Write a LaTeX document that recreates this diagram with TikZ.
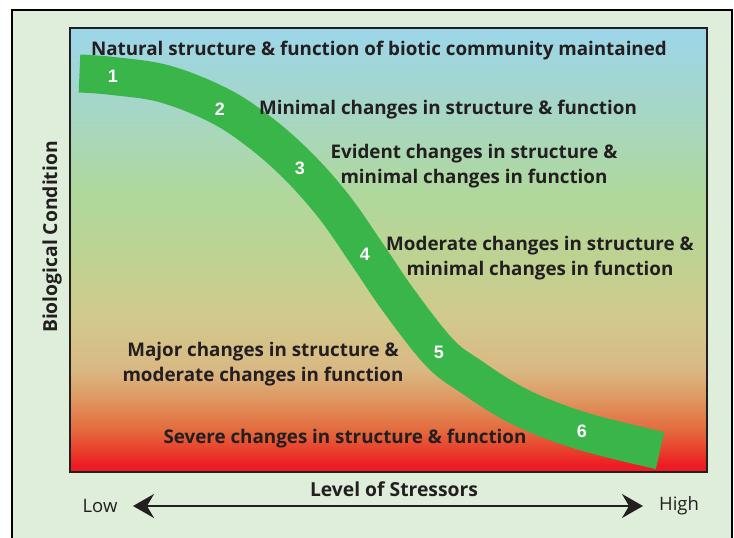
\documentclass[tikz,border=0pt]{standalone}
\usepackage{fontspec}
\setmainfont{Open Sans}
\newfontfamily\digitfont{Liberation Sans}
\usetikzlibrary{arrows.meta}

\definecolor{inkdark}{HTML}{231F20}
\definecolor{panelgreen}{HTML}{DEEEDB}
\definecolor{bandgreen}{HTML}{39B54A}
\definecolor{gRed}{HTML}{ED1C24}
\definecolor{gRedOrange}{HTML}{EA3529}
\definecolor{gOrangeRed}{HTML}{E46A3D}
\definecolor{gOrange}{HTML}{DF9660}
\definecolor{gTan}{HTML}{D9B883}
\definecolor{gKhaki}{HTML}{D2C98C}
\definecolor{gOlive}{HTML}{BED291}
\definecolor{gGreen}{HTML}{AFD89E}
\definecolor{gTeal}{HTML}{A6D6C6}
\definecolor{gBlue}{HTML}{9CD6EA}

% vertical background of the plot area: red (low condition) up to sky blue
\pgfdeclareverticalshading{plotbg}{100bp}{%
  color(0bp)=(gRed); color(25bp)=(gRed); color(25.8bp)=(gRed);
  color(26.9bp)=(gRedOrange); color(29.7bp)=(gOrangeRed);
  color(33.1bp)=(gOrange); color(36.5bp)=(gTan); color(42.1bp)=(gKhaki);
  color(48.9bp)=(gOlive); color(56.8bp)=(gGreen); color(65.8bp)=(gTeal);
  color(75bp)=(gBlue); color(100bp)=(gBlue)}

\begin{document}
\begin{tikzpicture}[x=1pt,y=-1pt,
  caption/.style={font=\bfseries\fontsize{18.8}{25.5}\selectfont, text=inkdark,
    align=center, inner sep=0pt},
  stage/.style={font=\digitfont\bfseries\fontsize{18}{18}\selectfont, text=white,
    inner sep=0pt},
  axislabel/.style={font=\fontsize{18.5}{18.5}\selectfont, text=inkdark, inner sep=0pt},
  axistitle/.style={font=\bfseries\fontsize{19.3}{19.3}\selectfont, text=inkdark,
    inner sep=0pt},
  frameline/.style={draw=black, line width=2.3pt},
  boxline/.style={draw=inkdark, line width=2pt},
  bandstroke/.style={draw=bandgreen, line width=38pt, line cap=butt, line join=round},
  axisarrow/.style={draw=inkdark, line width=1.8pt,
    arrows={Stealth[length=21pt,width=24pt,inset=7pt]-Stealth[length=21pt,width=24pt,inset=7pt]}}]

\useasboundingbox (0,0) rectangle (734,538);

% outer panel
\begin{scope}
  \clip (0,0) rectangle (734,538);
  \fill[white] (0,0) rectangle (734,538);
  \draw[frameline, fill=panelgreen] (12.2,10) rectangle (731.7,560);
\end{scope}

% plot area
\shade[shading=plotbg] (70.3,28.3) rectangle (707,471.7);

% condition band, drawn along its centre line
\draw[bandstroke] plot[smooth, tension=0.6] coordinates {
  (79.5,73.5) (113,76) (165,84) (220,106) (262,134) (300,168) (335,208)
  (367,254) (399,301) (439,352) (470,376) (520,407) (582,431) (660,450.5)};

\draw[boxline] (70.3,28.3) rectangle (707,471.7);

% stage descriptions
\node[caption, anchor=base] (natural) at (379,55)
  {Natural structure \& function of biotic community maintained};
\node[caption, anchor=base] (minimal) at (448,114)
  {Minimal changes in structure \& function};
\node[caption] (evident) at (474,166)
  {Evident changes in structure \&\\minimal changes in function};
\node[caption] (moderate) at (540,258)
  {Moderate changes in structure \&\\minimal changes in function};
\node[caption] (major) at (263,364)
  {Major changes in structure \&\\moderate changes in function};
\node[caption, anchor=base] (severe) at (345,443)
  {Severe changes in structure \& function};

% stage numbers on the band
\node[stage] (s1) at (113,76) {1};
\node[stage] (s2) at (220,109) {2};
\node[stage] (s3) at (300,168) {3};
\node[stage] (s4) at (365,254) {4};
\node[stage] (s5) at (439,352) {5};
\node[stage] (s6) at (582,431) {6};

% axes
\node[axistitle, rotate=90] (biocond) at (52,237) {Biological Condition};
\node[axistitle, anchor=base] (stressors) at (394,496) {Level of Stressors};
\node[axislabel] (low) at (100,506) {Low};
\node[axislabel] (high) at (679,506) {High};
\coordinate (arrowlow) at (133,506);
\coordinate (arrowhigh) at (643,506);
\draw[axisarrow] (arrowlow) -- (arrowhigh);

\end{tikzpicture}
\end{document}
